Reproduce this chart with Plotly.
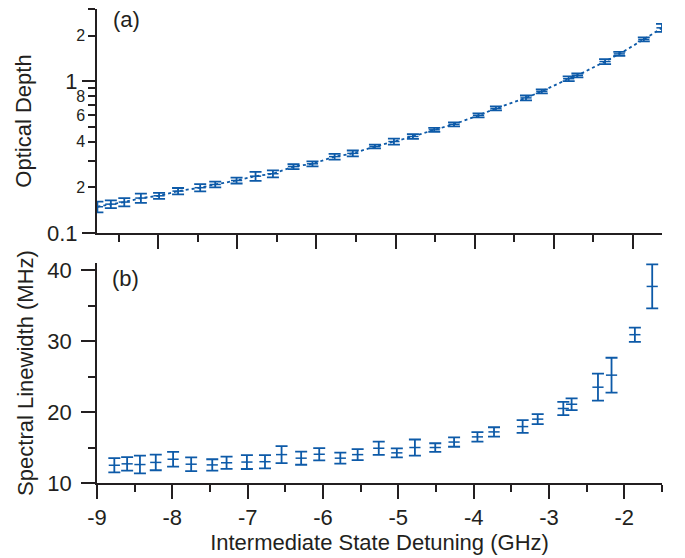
import plotly.graph_objects as go

# ---------------- data ----------------
detuning = [-8.77, -8.60, -8.43, -8.22, -7.99, -7.75, -7.47, -7.28, -7.01, -6.77,
            -6.55, -6.29, -6.05, -5.77, -5.54, -5.26, -5.02, -4.78, -4.51, -4.26,
            -3.95, -3.73, -3.35, -3.15, -2.81, -2.70, -2.35, -2.17, -1.86, -1.63]

optical_depth = [0.149, 0.155, 0.160, 0.170, 0.176, 0.189, 0.199, 0.209, 0.222, 0.237,
                 0.246, 0.274, 0.286, 0.319, 0.335, 0.372, 0.401, 0.433, 0.479, 0.521,
                 0.597, 0.663, 0.778, 0.860, 1.041, 1.094, 1.351, 1.517, 1.890, 2.254]
optical_depth_err = [0.012, 0.009, 0.010, 0.012, 0.008, 0.009, 0.011, 0.009, 0.010, 0.016,
                     0.013, 0.010, 0.011, 0.014, 0.015, 0.011, 0.018, 0.016, 0.014, 0.016,
                     0.018, 0.020, 0.029, 0.026, 0.039, 0.033, 0.051, 0.046, 0.057, 0.136]

linewidth = [12.5, 12.7, 12.6, 12.9, 13.35, 12.65, 12.55, 12.85, 12.95, 13.0,
             14.0, 13.5, 14.05, 13.5, 14.0, 14.9, 14.25, 15.0, 15.0, 15.77,
             16.5, 17.2, 17.95, 19.0, 20.5, 21.1, 23.5, 25.2, 30.9, 37.7]
linewidth_err = [1.0, 0.95, 1.25, 1.1, 1.05, 0.97, 0.8, 0.87, 0.98, 0.93,
                 1.2, 0.93, 0.87, 0.78, 0.78, 0.94, 0.63, 1.13, 0.6, 0.66,
                 0.66, 0.66, 0.9, 0.7, 0.94, 0.83, 1.9, 2.45, 1.0, 3.1]

od_small_tickvals = [0.2, 0.3, 0.4, 0.5, 0.6, 0.7, 0.8, 0.9, 2, 3]
od_small_ticktext = ["2", "", "4", "", "6", "", "8", "", "2", ""]
od_big_tickvals = [0.1, 1]
od_big_ticktext = ["0.1", "1"]
x_tickvals = [-9, -8, -7, -6, -5, -4, -3, -2]
x_ticktext = ["-9", "-8", "-7", "-6", "-5", "-4", "-3", "-2"]

# ---------------- style ----------------
BLUE = "#0d5aa8"
AX = "#231f20"
FONT = "Liberation Sans, Arial, sans-serif"
BIG = 22
SMALL = 16

fig = go.Figure()

# (a) optical depth
fig.add_trace(go.Scatter(
    x=detuning, y=optical_depth, mode="lines+markers",
    line=dict(color=BLUE, width=1.8, dash="dot"),
    marker=dict(symbol="line-ew", size=8, line=dict(color=BLUE, width=1.5)),
    error_y=dict(type="data", array=optical_depth_err, color=BLUE, thickness=1.8, width=6),
    xaxis="x", yaxis="y", showlegend=False))

# invisible copy so that the overlaid decade axis of panel (a) is drawn
fig.add_trace(go.Scatter(
    x=detuning, y=optical_depth, mode="markers", marker=dict(opacity=0),
    hoverinfo="skip", xaxis="x", yaxis="y3", showlegend=False))

# (b) spectral linewidth
fig.add_trace(go.Scatter(
    x=detuning, y=linewidth, mode="markers",
    marker=dict(symbol="line-ew", size=8, line=dict(color=BLUE, width=1.5)),
    error_y=dict(type="data", array=linewidth_err, color=BLUE, thickness=1.8, width=6),
    xaxis="x2", yaxis="y2", showlegend=False))

common_axis = dict(showline=True, linecolor=AX, linewidth=1.5, showgrid=False, zeroline=False,
                   ticks="outside", tickcolor=AX, tickwidth=1.5, automargin=False,
                   tickfont=dict(family=FONT, size=BIG, color=AX))

fig.update_layout(
    width=685, height=558,
    margin=dict(l=97, r=23, t=9, b=75),
    paper_bgcolor="white", plot_bgcolor="white",
    font=dict(family=FONT, color=AX),
    xaxis=dict(common_axis, anchor="y", domain=[0, 1], range=[-8.775, -1.63],
               showticklabels=False, tickmode="linear", tick0=0, dtick=1, ticklen=14,
               minor=dict(ticks="outside", dtick=0.5, tick0=0, ticklen=7,
                          tickcolor=AX, tickwidth=1.5)),
    yaxis=dict(common_axis, anchor="x", domain=[0.5274, 1], type="log",
               range=[-1, 0.4771],
               tickmode="array", tickvals=od_small_tickvals, ticktext=od_small_ticktext,
               ticklen=7, tickfont=dict(family=FONT, size=SMALL, color=AX),
               title=dict(text="Optical Depth", font=dict(family=FONT, size=BIG, color=AX),
                          standoff=38)),
    yaxis3=dict(common_axis, overlaying="y", anchor="x", side="left", type="log",
                range=[-1, 0.4771],
                tickmode="array", tickvals=od_big_tickvals, ticktext=od_big_ticktext,
                ticklen=14, showline=False),
    xaxis2=dict(common_axis, anchor="y2", domain=[0, 1], range=[-9, -1.5],
                tickmode="array", tickvals=x_tickvals, ticktext=x_ticktext, ticklen=14,
                minor=dict(ticks="outside", dtick=0.5, tick0=0, ticklen=7,
                           tickcolor=AX, tickwidth=1.5),
                title=dict(text="Intermediate State Detuning (GHz)",
                           font=dict(family=FONT, size=BIG, color=AX), standoff=2)),
    yaxis2=dict(common_axis, anchor="x2", domain=[0, 0.4641], range=[10, 41],
                tickmode="linear", tick0=0, dtick=10, ticklen=14, ticklabelstandoff=5,
                minor=dict(ticks="outside", dtick=5, tick0=0, ticklen=7,
                           tickcolor=AX, tickwidth=1.5),
                title=dict(text="Spectral Linewidth (MHz)",
                           font=dict(family=FONT, size=BIG, color=AX), standoff=8)),
    annotations=[
        dict(text="(a)", xref="x domain", yref="y domain", x=0.025, y=1,
             xanchor="left", yanchor="top", yshift=4, showarrow=False,
             font=dict(family=FONT, size=BIG, color=AX)),
        dict(text="(b)", xref="x2 domain", yref="y2 domain", x=0.023, y=1,
             xanchor="left", yanchor="top", yshift=-1, showarrow=False,
             font=dict(family=FONT, size=BIG, color=AX)),
    ],
)

fig.write_html("out.html", config={"displayModeBar": False},
               post_script="document.body.style.margin='0';")
